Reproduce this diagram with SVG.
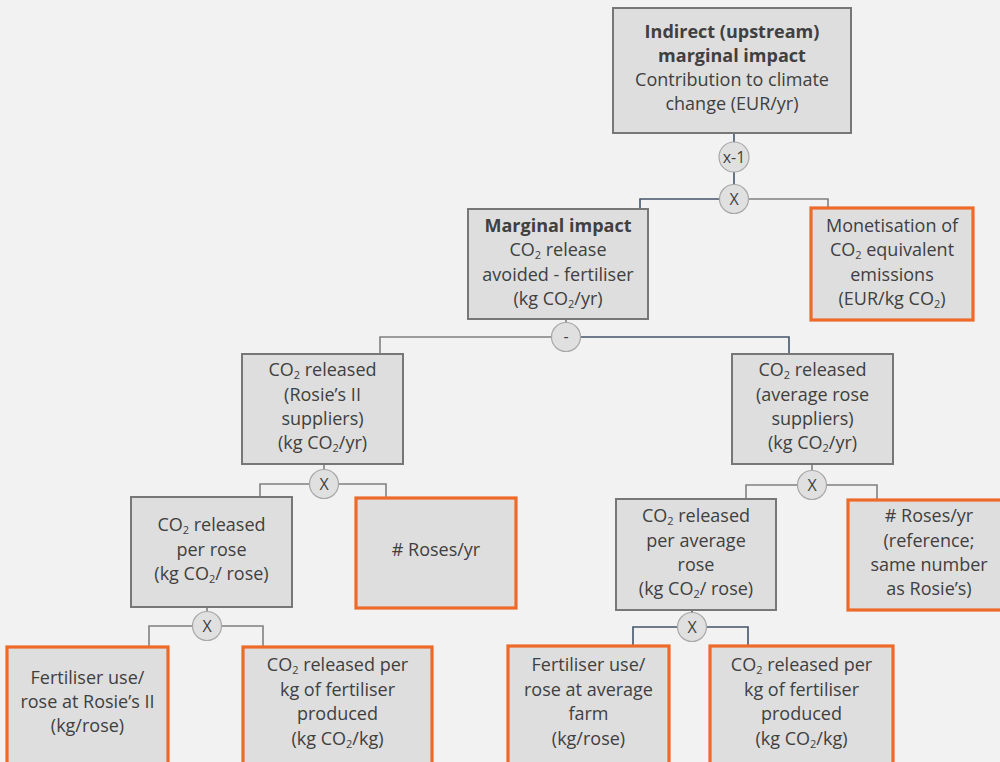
<svg xmlns="http://www.w3.org/2000/svg" width="1000" height="762" viewBox="0 0 1000 762">
  <style>
    .box { fill: #dedede; stroke: #777777; stroke-width: 2; }
    .input { fill: #dedede; stroke: #ee6a28; stroke-width: 3.2; }
    .op { fill: #e0e0e0; stroke: #a8a8a8; stroke-width: 1.2; }
    .lbl { font-family: "Open Sans", "Noto Sans", sans-serif; font-size: 18px; fill: #404040; text-anchor: middle; }
    .b { font-weight: bold; }
    .sub { font-size: 11px; }
    .optxt { font-family: "Open Sans", "Noto Sans", sans-serif; font-size: 16px; fill: #404040; text-anchor: middle; }
    .ln { fill: none; stroke-width: 1.6; }
    .blue { stroke: #44546a; }
    .grey { stroke: #808080; }
  </style>
  <rect width="1000" height="762" fill="#f2f2f2"/>

  <!-- connectors -->
  <g id="connectors">
    <path class="ln blue" d="M734 133 V142 M734 172 V185"/>
    <path class="ln blue" d="M720 199 H640 V209"/>
    <path class="ln grey" d="M748 199 H828 V208"/>
    <path class="ln grey" d="M566 319 V323 M552 337 H380 V354"/>
    <path class="ln blue" d="M580 337 H789 V354"/>
    <path class="ln grey" d="M324 464 V470 M310 484 H260 V497 M338 484 H386 V498"/>
    <path class="ln grey" d="M812 464 V471 M798 485 H746 V499 M826 485 H877 V500"/>
    <path class="ln grey" d="M207 607 V612 M193 626 H149 V647 M221 626 H263 V647"/>
    <path class="ln blue" d="M692 610 V613 M678 627 H633 V646 M706 627 H748 V646"/>
  </g>

  <!-- operators -->
  <g id="op-invert">
    <circle class="op" cx="734" cy="157" r="15"/>
    <text class="optxt" x="734" y="163" font-size="17">x-1</text>
  </g>
  <g id="op-top">
    <circle class="op" cx="734" cy="199" r="14.5"/>
    <text class="optxt" x="734" y="205">X</text>
  </g>
  <g id="op-minus">
    <circle class="op" cx="566" cy="337" r="14.5"/>
    <text class="optxt" x="566" y="342">-</text>
  </g>
  <g id="op-rosie">
    <circle class="op" cx="324" cy="484" r="14.5"/>
    <text class="optxt" x="324" y="490">X</text>
  </g>
  <g id="op-average">
    <circle class="op" cx="812" cy="485" r="14.5"/>
    <text class="optxt" x="812" y="491">X</text>
  </g>
  <g id="op-rosie-rose">
    <circle class="op" cx="207" cy="626" r="14.5"/>
    <text class="optxt" x="207" y="632">X</text>
  </g>
  <g id="op-average-rose">
    <circle class="op" cx="692" cy="627" r="14.5"/>
    <text class="optxt" x="692" y="633">X</text>
  </g>

  <!-- nodes -->
  <g id="indirect-impact">
    <rect class="box" x="613" y="8" width="238" height="125"/>
    <text class="lbl b" x="732" y="38">Indirect (upstream)</text>
    <text class="lbl b" x="732" y="62">marginal impact</text>
    <text class="lbl" x="732" y="86">Contribution to climate</text>
    <text class="lbl" x="732" y="110">change (EUR/yr)</text>
  </g>

  <g id="marginal-impact">
    <rect class="box" x="468" y="209" width="180" height="110"/>
    <text class="lbl b" x="558" y="232">Marginal impact</text>
    <text class="lbl" x="558" y="256">CO<tspan class="sub" dy="3">2</tspan><tspan dy="-3"> release</tspan></text>
    <text class="lbl" x="558" y="281">avoided - fertiliser</text>
    <text class="lbl" x="558" y="305">(kg CO<tspan class="sub" dy="3">2</tspan><tspan dy="-3">/yr)</tspan></text>
  </g>

  <g id="monetisation">
    <rect class="input" x="811" y="208" width="162" height="112"/>
    <text class="lbl" x="892" y="232">Monetisation of</text>
    <text class="lbl" x="892" y="256">CO<tspan class="sub" dy="3">2</tspan><tspan dy="-3"> equivalent</tspan></text>
    <text class="lbl" x="892" y="281">emissions</text>
    <text class="lbl" x="892" y="305">(EUR/kg CO<tspan class="sub" dy="3">2</tspan><tspan dy="-3">)</tspan></text>
  </g>

  <g id="released-rosie">
    <rect class="box" x="242" y="354" width="161" height="110"/>
    <text class="lbl" x="322.5" y="376">CO<tspan class="sub" dy="3">2</tspan><tspan dy="-3"> released</tspan></text>
    <text class="lbl" x="322.5" y="401">(Rosie’s II</text>
    <text class="lbl" x="322.5" y="425">suppliers)</text>
    <text class="lbl" x="322.5" y="449">(kg CO<tspan class="sub" dy="3">2</tspan><tspan dy="-3">/yr)</tspan></text>
  </g>

  <g id="released-average">
    <rect class="box" x="732" y="354" width="161" height="110"/>
    <text class="lbl" x="812.5" y="376">CO<tspan class="sub" dy="3">2</tspan><tspan dy="-3"> released</tspan></text>
    <text class="lbl" x="812.5" y="401">(average rose</text>
    <text class="lbl" x="812.5" y="425">suppliers)</text>
    <text class="lbl" x="812.5" y="449">(kg CO<tspan class="sub" dy="3">2</tspan><tspan dy="-3">/yr)</tspan></text>
  </g>

  <g id="per-rose">
    <rect class="box" x="131" y="497" width="161" height="110"/>
    <text class="lbl" x="211.5" y="531">CO<tspan class="sub" dy="3">2</tspan><tspan dy="-3"> released</tspan></text>
    <text class="lbl" x="211.5" y="556">per rose</text>
    <text class="lbl" x="211.5" y="580">(kg CO<tspan class="sub" dy="3">2</tspan><tspan dy="-3">/ rose)</tspan></text>
  </g>

  <g id="roses-per-year">
    <rect class="input" x="356" y="498" width="160" height="110"/>
    <text class="lbl" x="436" y="556">#&#160;Roses/yr</text>
  </g>

  <g id="per-average-rose">
    <rect class="box" x="616" y="499" width="160" height="111"/>
    <text class="lbl" x="696" y="522">CO<tspan class="sub" dy="3">2</tspan><tspan dy="-3"> released</tspan></text>
    <text class="lbl" x="696" y="547">per average</text>
    <text class="lbl" x="696" y="571">rose</text>
    <text class="lbl" x="696" y="595">(kg CO<tspan class="sub" dy="3">2</tspan><tspan dy="-3">/ rose)</tspan></text>
  </g>

  <g id="roses-reference">
    <rect class="input" x="848" y="500" width="162" height="110"/>
    <text class="lbl" x="929" y="522">#&#160;Roses/yr</text>
    <text class="lbl" x="929" y="547">(reference;</text>
    <text class="lbl" x="929" y="571">same number</text>
    <text class="lbl" x="929" y="595">as Rosie’s)</text>
  </g>

  <g id="fertiliser-rosie">
    <rect class="input" x="7" y="647" width="161" height="125"/>
    <text class="lbl" x="87.5" y="684">Fertiliser use/</text>
    <text class="lbl" x="87.5" y="708">rose at Rosie’s II</text>
    <text class="lbl" x="87.5" y="732">(kg/rose)</text>
  </g>

  <g id="co2-per-kg-rosie">
    <rect class="input" x="243" y="647" width="189" height="125"/>
    <text class="lbl" x="337.5" y="671">CO<tspan class="sub" dy="3">2</tspan><tspan dy="-3"> released per</tspan></text>
    <text class="lbl" x="337.5" y="696">kg of fertiliser</text>
    <text class="lbl" x="337.5" y="720">produced</text>
    <text class="lbl" x="337.5" y="745">(kg CO<tspan class="sub" dy="3">2</tspan><tspan dy="-3">/kg)</tspan></text>
  </g>

  <g id="fertiliser-average">
    <rect class="input" x="508" y="646" width="161" height="126"/>
    <text class="lbl" x="588.5" y="671">Fertiliser use/</text>
    <text class="lbl" x="588.5" y="696">rose at average</text>
    <text class="lbl" x="588.5" y="720">farm</text>
    <text class="lbl" x="588.5" y="745">(kg/rose)</text>
  </g>

  <g id="co2-per-kg-average">
    <rect class="input" x="710" y="646" width="183" height="126"/>
    <text class="lbl" x="801.5" y="671">CO<tspan class="sub" dy="3">2</tspan><tspan dy="-3"> released per</tspan></text>
    <text class="lbl" x="801.5" y="696">kg of fertiliser</text>
    <text class="lbl" x="801.5" y="720">produced</text>
    <text class="lbl" x="801.5" y="745">(kg CO<tspan class="sub" dy="3">2</tspan><tspan dy="-3">/kg)</tspan></text>
  </g>
</svg>
